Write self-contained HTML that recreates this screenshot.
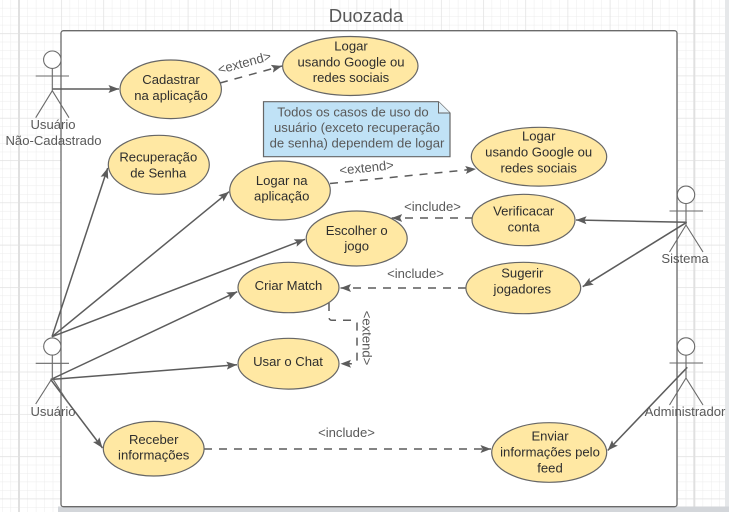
<!DOCTYPE html>
<html>
<head>
<meta charset="utf-8">
<style>
html,body{margin:0;padding:0;width:729px;height:512px;overflow:hidden;background:#fff}
svg{display:block;filter:blur(0.3px)}
text{font-family:"Liberation Sans",sans-serif;font-size:13.1px;text-anchor:middle}
.t{fill:#2e2e2e}
.g{fill:#595959}
.e{fill:#ffe8a3;stroke:#666;stroke-width:1.2}
.a{stroke:#6a6a6a;stroke-width:1.1;fill:none}
.c{stroke:#5c5c5c;stroke-width:1.5;fill:none}
.d{stroke:#5c5c5c;stroke-width:1.5;fill:none;stroke-dasharray:8 7}
.h{fill:#5c5c5c;stroke:none}
</style>
</head>
<body>
<svg width="729" height="512" viewBox="0 0 729 512" xmlns="http://www.w3.org/2000/svg">
<defs>
<pattern id="mi" x="2.1" y="7.9" width="8.44" height="8.46" patternUnits="userSpaceOnUse">
<path d="M0 0V8.46M0 0H8.44" stroke="#ececec" stroke-width="1" fill="none"/>
</pattern>
<pattern id="ma" x="19" y="33.3" width="42.2" height="42.3" patternUnits="userSpaceOnUse">
<path d="M0 0V42.3M0 0H42.2" stroke="#e0e0e0" stroke-width="1.2" fill="none"/>
</pattern>
<marker id="ar" markerUnits="userSpaceOnUse" markerWidth="12" markerHeight="10" refX="10.5" refY="5" orient="auto">
<path class="h" d="M0 1L10.5 5L0 9L2 5Z"/>
</marker>
</defs>
<rect width="729" height="512" fill="#fff"/>
<rect width="729" height="512" fill="url(#mi)"/>
<rect width="729" height="512" fill="url(#ma)"/>
<path d="M19 0V512M694.3 0V512" stroke="#e0e0e0" stroke-width="2" fill="none"/>
<rect x="725" y="0" width="4" height="512" fill="#e6e8ea"/>
<rect x="58" y="506.5" width="671" height="5.5" fill="#d3d6da"/>
<rect x="61" y="30.7" width="616" height="476" rx="2.5" fill="#fff" stroke="#6a6a6a" stroke-width="1.3"/>
<text class="g" x="366" y="22" style="font-size:18.6px">Duozada</text>

<!-- connectors -->
<path class="c" d="M52 89H119" marker-end="url(#ar)"/>
<path class="d" d="M220 83L282 66" marker-end="url(#ar)"/>
<path class="c" d="M52 336.7L107.7 168" marker-end="url(#ar)"/>
<path class="c" d="M52 336.7L229 191.7" marker-end="url(#ar)"/>
<path class="c" d="M52 336.7L305 239.3" marker-end="url(#ar)"/>
<path class="c" d="M50.7 379.5L237.3 291.7" marker-end="url(#ar)"/>
<path class="c" d="M50.7 379.5L237 364.8" marker-end="url(#ar)"/>
<path class="c" d="M50.7 379.5L102.5 448" marker-end="url(#ar)"/>
<path class="d" d="M204 449H491" marker-end="url(#ar)"/>
<path class="d" d="M330 183.5L476 169" marker-end="url(#ar)"/>
<path class="d" d="M473 218H391.7" marker-end="url(#ar)"/>
<path class="d" d="M466 288H340.5" marker-end="url(#ar)"/>
<path class="d" d="M329 303V317Q329 320.3 332 320.3H354Q357 320.3 357 323.3V360.5Q357 363.7 354 363.7H340.5" stroke-dasharray="7 5" marker-end="url(#ar)"/>
<path class="c" d="M686.7 222.3L576 220" marker-end="url(#ar)"/>
<path class="c" d="M686.7 222.3L582.7 286.7" marker-end="url(#ar)"/>
<path class="c" d="M687.3 367.3L607.7 450.5" marker-end="url(#ar)"/>

<!-- ellipses -->
<ellipse class="e" cx="170.7" cy="89.3" rx="50.7" ry="29.3"/>
<ellipse class="e" cx="350.3" cy="66" rx="67.7" ry="29.5"/>
<ellipse class="e" cx="158.8" cy="164.8" rx="50.5" ry="29.5"/>
<ellipse class="e" cx="280" cy="190.5" rx="50.3" ry="29.5"/>
<ellipse class="e" cx="356.7" cy="238.5" rx="50.5" ry="27.5"/>
<ellipse class="e" cx="288.5" cy="287.5" rx="50.5" ry="25.2"/>
<ellipse class="e" cx="288.5" cy="363.7" rx="50.5" ry="25.4"/>
<ellipse class="e" cx="539" cy="156.7" rx="67.7" ry="29.4"/>
<ellipse class="e" cx="523.5" cy="220" rx="51.5" ry="25.7"/>
<ellipse class="e" cx="523.3" cy="288" rx="57.4" ry="25.7"/>
<ellipse class="e" cx="153.7" cy="448.7" rx="50.4" ry="27.3"/>
<ellipse class="e" cx="549.2" cy="452.5" rx="57.5" ry="29.8"/>

<!-- note -->
<path d="M263.5 101.7H438.5L450 113V156.7H263.5Z" fill="#c0e2f6" stroke="#666" stroke-width="1.2"/>
<path d="M438.5 101.7V113H450" fill="#dff0fa" stroke="#666" stroke-width="1"/>
<text class="g" x="353" y="116.7">Todos os casos de uso do</text>
<text class="g" x="357" y="132">usuário (exceto recuperação</text>
<text class="g" x="357" y="147.5">de senha) dependem de logar</text>

<!-- ellipse text -->
<text class="t" x="171" y="84">Cadastrar</text>
<text class="t" x="171" y="100">na aplicação</text>
<text class="t" x="351" y="50.5">Logar</text>
<text class="t" x="351" y="66.3">usando Google ou</text>
<text class="t" x="351" y="82">redes sociais</text>
<text class="t" x="158.3" y="161.7">Recuperação</text>
<text class="t" x="158.3" y="177.7">de Senha</text>
<text class="t" x="281.7" y="185">Logar na</text>
<text class="t" x="281.7" y="200.7">aplicação</text>
<text class="t" x="356.7" y="235">Escolher o</text>
<text class="t" x="356.7" y="250.7">jogo</text>
<text class="t" x="288.5" y="290">Criar Match</text>
<text class="t" x="288" y="366">Usar o Chat</text>
<text class="t" x="538.7" y="140.7">Logar</text>
<text class="t" x="538.7" y="156.7">usando Google ou</text>
<text class="t" x="538.7" y="172.7">redes sociais</text>
<text class="t" x="523.7" y="215.7">Verificacar</text>
<text class="t" x="523.7" y="231.3">conta</text>
<text class="t" x="522.3" y="277.7">Sugerir</text>
<text class="t" x="522.3" y="293.3">jogadores</text>
<text class="t" x="153.7" y="444">Receber</text>
<text class="t" x="153.7" y="459.7">informações</text>
<text class="t" x="550" y="440.7">Enviar</text>
<text class="t" x="550" y="456.7">informações pelo</text>
<text class="t" x="550" y="472.7">feed</text>

<!-- connector labels -->
<text class="g" transform="translate(245.5 67) rotate(-15)">&lt;extend&gt;</text>
<text class="g" transform="translate(367 172) rotate(-6)">&lt;extend&gt;</text>
<text class="g" x="432.5" y="211">&lt;include&gt;</text>
<text class="g" x="415.5" y="278">&lt;include&gt;</text>
<text class="g" x="346.5" y="437">&lt;include&gt;</text>
<text class="g" transform="translate(362.5 338) rotate(90)">&lt;extend&gt;</text>

<!-- actors -->
<g class="a">
<circle cx="52.3" cy="59.7" r="8.7" fill="#fff"/>
<path d="M52.3 68.4V90.7M35.7 76H69M52.3 90.7L35.7 117.7M52.3 90.7L69 117.7"/>
<circle cx="52.3" cy="346.5" r="8.6" fill="#fff"/>
<path d="M52.3 355V378M35.7 363.3H69M52.3 378L35.7 404M52.3 378L69 404"/>
<circle cx="686" cy="194.8" r="8.7" fill="#fff"/>
<path d="M686 203.5V225M669.5 211H703M686 225L669.5 252M686 225L703 252"/>
<circle cx="686" cy="346.5" r="8.7" fill="#fff"/>
<path d="M686 355.2V378M669.5 363H703M686 378L669.5 405M686 378L703 405"/>
</g>
<text class="g" x="53" y="129">Usuário</text>
<text class="g" x="53.5" y="145">Não-Cadastrado</text>
<text class="g" x="53" y="416">Usuário</text>
<text class="g" x="685" y="263">Sistema</text>
<text class="g" x="685" y="416">Administrador</text>
</svg>
</body>
</html>
